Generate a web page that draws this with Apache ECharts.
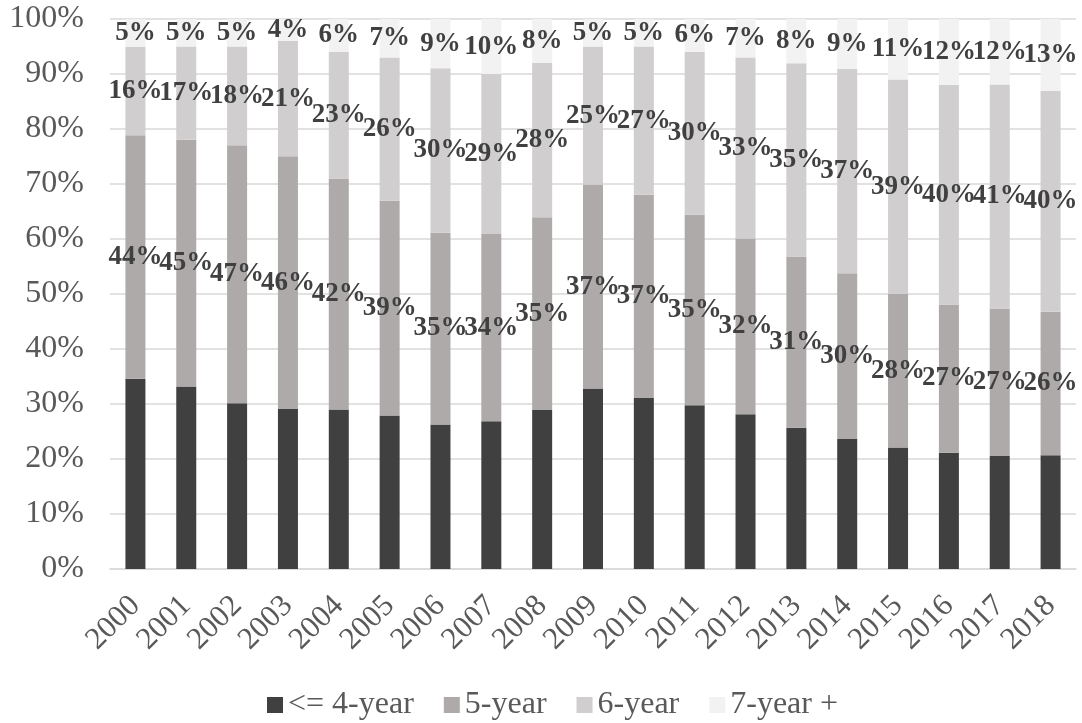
<!DOCTYPE html>
<html>
<head>
<meta charset="utf-8">
<script src="https://cdn.jsdelivr.net/npm/echarts@6/dist/echarts.min.js"></script>
<style>
  html, body { margin: 0; padding: 0; background: #ffffff; }
  #chart { width: 1082px; height: 723px; }
</style>
</head>
<body>
<div id="chart"></div>
<script>
// Share of completions by time-to-degree, percent of each year
const years = ['2000','2001','2002','2003','2004','2005','2006','2007','2008','2009',
               '2010','2011','2012','2013','2014','2015','2016','2017','2018'];
const upTo4Year = [34.4, 33.3, 30.2, 29.1, 29.0, 27.9, 26.4, 26.8, 28.9, 32.7,
                   31.1, 30.1, 28.2, 25.6, 23.5, 22.1, 21.2, 20.7, 20.6];
const fiveYear  = [44, 45, 47, 46, 42, 39, 35, 34, 35, 37, 37, 35, 32, 31, 30, 28, 27, 27, 26];
const sixYear   = [16, 17, 18, 21, 23, 26, 30, 29, 28, 25, 27, 30, 33, 35, 37, 39, 40, 41, 40];
const sevenPlus = [5, 5, 5, 4, 6, 7, 9, 10, 8, 5, 5, 6, 7, 8, 9, 11, 12, 12, 13];
const seriesNames = ['<= 4-year', '5-year', '6-year', '7-year +'];
const seriesColors = ['#404040', '#aeaaaa', '#d0cece', '#f2f2f2'];

const serif = '"Liberation Serif", "Times New Roman", serif';

// 100% stacked columns: each segment is drawn as its share of the column total,
// while the label keeps the stored value.
const allSeries = [upTo4Year, fiveYear, sixYear, sevenPlus];
const totals = years.map((_, j) => allSeries.reduce((s, arr) => s + arr[j], 0));
function shares(arr) {
  return arr.map((v, j) => ({ value: v / totals[j] * 100, raw: v }));
}

const valueLabel = {
  show: true,
  position: 'inside',
  formatter: p => p.data.raw + '%',
  fontFamily: serif,
  fontWeight: 'bold',
  fontSize: 27,
  color: '#404040'
};

function makeSeries(i, labelled) {
  return {
    name: seriesNames[i],
    type: 'bar',
    stack: 'total',
    barWidth: 20,
    data: shares(allSeries[i]),
    itemStyle: { color: seriesColors[i] },
    label: labelled ? valueLabel : { show: false },
    emphasis: { disabled: true }
  };
}

const chart = echarts.init(document.getElementById('chart'));
chart.setOption({
  animation: false,
  backgroundColor: '#ffffff',
  grid: { left: 110, right: 6, top: 19, bottom: 154, containLabel: false },
  legend: {
    data: seriesNames,
    top: 684,
    left: 262,
    icon: 'rect',
    itemWidth: 16,
    itemHeight: 16,
    itemGap: 30,
    textStyle: { fontFamily: serif, fontSize: 32, color: '#595959' }
  },
  xAxis: {
    type: 'category',
    data: years,
    axisLine: { lineStyle: { color: '#d9d9d9', width: 1.5 } },
    axisTick: { show: false },
    axisLabel: {
      rotate: 45,
      margin: 32,
      interval: 0,
      fontFamily: serif,
      fontSize: 31,
      color: '#595959'
    }
  },
  yAxis: {
    type: 'value',
    min: 0,
    max: 100,
    interval: 10,
    axisLine: { show: false },
    axisTick: { show: false },
    splitLine: { lineStyle: { color: '#d9d9d9', width: 1.5 } },
    axisLabel: {
      formatter: '{value}%',
      margin: 26,
      fontFamily: serif,
      fontSize: 32,
      color: '#595959'
    }
  },
  series: [
    makeSeries(0, false),
    makeSeries(1, true),
    makeSeries(2, true),
    makeSeries(3, true)
  ]
});
</script>
</body>
</html>
